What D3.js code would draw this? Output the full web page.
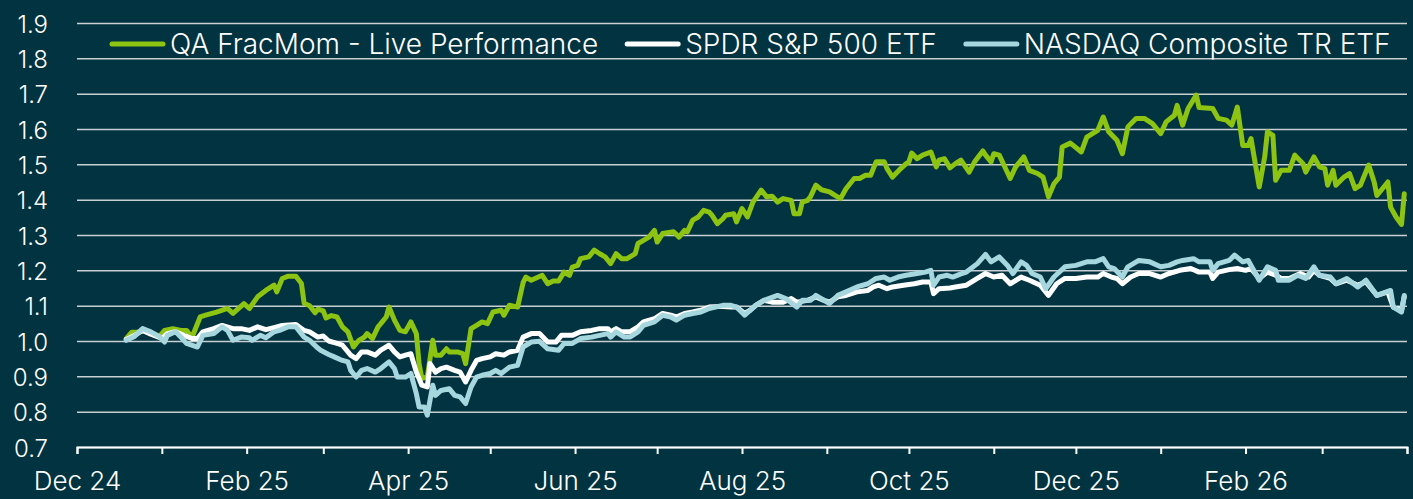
<!DOCTYPE html>
<html>
<head>
<meta charset="utf-8">
<script src="https://cdn.jsdelivr.net/npm/d3@7"></script>
<style>
  html, body { margin: 0; padding: 0; background: #023340; }
  svg text { font-family: Inter, "Noto Sans", sans-serif; font-weight: 300; fill: #ffffff; }
</style>
</head>
<body>
<div id="chart"></div>
<script>
// Series names (legend order)
var seriesNames = ['QA FracMom - Live Performance', 'SPDR S&P 500 ETF', 'NASDAQ Composite TR ETF'];

// y-axis tick labels
var yTicks = [0.7, 0.8, 0.9, 1.0, 1.1, 1.2, 1.3, 1.4, 1.5, 1.6, 1.7, 1.8, 1.9];

// x-axis range
var xStart = '2024-12-01',
    xEnd = '2026-04-01';

// QA FracMom - Live Performance
var fracMom = [
  ["2024-12-19",1.007],["2024-12-21",1.025],["2024-12-23",1.025],["2024-12-26",1.03],["2024-12-28",1.02],["2024-12-31",1.012],
  ["2025-01-02",1.03],["2025-01-05",1.035],["2025-01-08",1.03],["2025-01-10",1.03],["2025-01-12",1.01],["2025-01-15",1.068],
  ["2025-01-17",1.073],["2025-01-21",1.082],["2025-01-25",1.092],["2025-01-27",1.078],["2025-01-31",1.106],["2025-02-02",1.092],
  ["2025-02-05",1.125],["2025-02-08",1.143],["2025-02-11",1.158],["2025-02-12",1.139],["2025-02-14",1.177],["2025-02-16",1.183],
  ["2025-02-19",1.183],["2025-02-21",1.163],["2025-02-22",1.107],["2025-02-24",1.100],["2025-02-26",1.080],["2025-02-27",1.090],
  ["2025-03-01",1.085],["2025-03-02",1.065],["2025-03-04",1.072],["2025-03-06",1.068],["2025-03-08",1.040],["2025-03-10",1.026],
  ["2025-03-12",0.983],["2025-03-14",1.002],["2025-03-16",1.011],["2025-03-17",1.021],["2025-03-19",1.007],["2025-03-21",1.040],
  ["2025-03-22",1.049],["2025-03-24",1.068],["2025-03-25",1.096],["2025-03-27",1.059],["2025-03-29",1.030],["2025-03-31",1.026],
  ["2025-04-02",1.054],["2025-04-04",1.021],["2025-04-05",0.936],["2025-04-06",0.894],["2025-04-08",0.898],["2025-04-10",1.002],
  ["2025-04-11",0.960],["2025-04-13",0.960],["2025-04-15",0.978],["2025-04-16",0.969],["2025-04-19",0.969],["2025-04-21",0.964],
  ["2025-04-22",0.936],["2025-04-24",1.035],["2025-04-26",1.044],["2025-04-28",1.054],["2025-04-30",1.049],["2025-05-02",1.082],
  ["2025-05-05",1.087],["2025-05-06",1.073],["2025-05-08",1.101],["2025-05-11",1.096],["2025-05-13",1.165],["2025-05-14",1.181],
  ["2025-05-16",1.172],["2025-05-20",1.186],["2025-05-22",1.162],["2025-05-24",1.170],["2025-05-26",1.170],["2025-05-28",1.195],
  ["2025-05-30",1.186],["2025-05-31",1.209],["2025-06-02",1.214],["2025-06-03",1.233],["2025-06-06",1.238],["2025-06-08",1.257],
  ["2025-06-10",1.247],["2025-06-12",1.238],["2025-06-14",1.219],["2025-06-16",1.247],["2025-06-18",1.233],["2025-06-20",1.233],
  ["2025-06-23",1.247],["2025-06-24",1.276],["2025-06-26",1.285],["2025-06-28",1.294],["2025-06-30",1.313],["2025-07-01",1.280],
  ["2025-07-03",1.304],["2025-07-07",1.309],["2025-07-09",1.294],["2025-07-11",1.313],["2025-07-12",1.309],["2025-07-14",1.342],
  ["2025-07-16",1.351],["2025-07-18",1.370],["2025-07-20",1.365],["2025-07-21",1.356],["2025-07-23",1.332],["2025-07-25",1.346],
  ["2025-07-26",1.356],["2025-07-29",1.360],["2025-07-30",1.337],["2025-08-01",1.375],["2025-08-03",1.351],["2025-08-05",1.393],
  ["2025-08-08",1.427],["2025-08-10",1.408],["2025-08-12",1.410],["2025-08-14",1.393],["2025-08-16",1.403],["2025-08-19",1.398],
  ["2025-08-20",1.360],["2025-08-22",1.360],["2025-08-23",1.393],["2025-08-25",1.398],["2025-08-26",1.408],["2025-08-28",1.441],
  ["2025-08-30",1.428],["2025-09-02",1.422],["2025-09-04",1.412],["2025-09-06",1.403],["2025-09-08",1.431],["2025-09-11",1.460],
  ["2025-09-13",1.460],["2025-09-15",1.469],["2025-09-17",1.469],["2025-09-19",1.507],["2025-09-22",1.507],["2025-09-23",1.488],
  ["2025-09-25",1.464],["2025-09-28",1.488],["2025-09-30",1.502],["2025-10-01",1.507],["2025-10-02",1.532],["2025-10-04",1.516],
  ["2025-10-06",1.526],["2025-10-09",1.535],["2025-10-11",1.493],["2025-10-12",1.512],["2025-10-14",1.516],["2025-10-16",1.490],
  ["2025-10-18",1.502],["2025-10-20",1.512],["2025-10-23",1.478],["2025-10-25",1.507],["2025-10-28",1.538],["2025-10-29",1.526],
  ["2025-10-31",1.507],["2025-11-01",1.530],["2025-11-03",1.526],["2025-11-05",1.493],["2025-11-07",1.460],["2025-11-09",1.493],
  ["2025-11-12",1.521],["2025-11-14",1.483],["2025-11-17",1.474],["2025-11-19",1.464],["2025-11-21",1.408],["2025-11-23",1.445],
  ["2025-11-25",1.464],["2025-11-26",1.549],["2025-11-29",1.560],["2025-12-03",1.535],["2025-12-05",1.577],["2025-12-09",1.596],
  ["2025-12-11",1.634],["2025-12-13",1.592],["2025-12-16",1.568],["2025-12-18",1.530],["2025-12-20",1.606],["2025-12-23",1.630],
  ["2025-12-26",1.630],["2025-12-29",1.615],["2026-01-01",1.587],["2026-01-03",1.620],["2026-01-06",1.639],["2026-01-07",1.667],
  ["2026-01-09",1.611],["2026-01-11",1.658],["2026-01-14",1.696],["2026-01-15",1.661],["2026-01-20",1.658],["2026-01-22",1.630],
  ["2026-01-25",1.625],["2026-01-27",1.611],["2026-01-29",1.662],["2026-01-31",1.553],["2026-02-02",1.553],["2026-02-03",1.573],
  ["2026-02-06",1.436],["2026-02-08",1.521],["2026-02-09",1.592],["2026-02-11",1.582],["2026-02-12",1.455],["2026-02-14",1.483],
  ["2026-02-17",1.483],["2026-02-19",1.526],["2026-02-22",1.502],["2026-02-23",1.478],["2026-02-26",1.521],["2026-02-28",1.493],
  ["2026-03-02",1.488],["2026-03-03",1.441],["2026-03-05",1.483],["2026-03-06",1.441],["2026-03-09",1.464],["2026-03-11",1.474],
  ["2026-03-13",1.431],["2026-03-15",1.441],["2026-03-18",1.498],["2026-03-20",1.450],["2026-03-21",1.412],["2026-03-23",1.431],
  ["2026-03-25",1.450],["2026-03-26",1.379],["2026-03-28",1.351],["2026-03-30",1.330],["2026-03-31",1.417]
];

// SPDR S&P 500 ETF
var spy = [
  ["2024-12-19",1.004],["2024-12-22",1.016],["2024-12-25",1.030],["2024-12-28",1.019],["2025-01-01",1.007],["2025-01-03",1.021],
  ["2025-01-06",1.026],["2025-01-09",1.016],["2025-01-12",1.007],["2025-01-14",1.007],["2025-01-16",1.026],["2025-01-20",1.035],
  ["2025-01-23",1.044],["2025-01-27",1.035],["2025-01-30",1.035],["2025-02-02",1.030],["2025-02-05",1.040],["2025-02-08",1.032],
  ["2025-02-11",1.038],["2025-02-14",1.044],["2025-02-19",1.047],["2025-02-22",1.030],["2025-02-24",1.026],["2025-02-27",1.011],
  ["2025-03-01",1.014],["2025-03-03",1.000],["2025-03-06",0.993],["2025-03-08",0.988],["2025-03-11",0.960],["2025-03-13",0.950],
  ["2025-03-15",0.969],["2025-03-17",0.969],["2025-03-20",0.960],["2025-03-22",0.974],["2025-03-25",0.988],["2025-03-27",0.969],
  ["2025-03-29",0.955],["2025-03-31",0.960],["2025-04-02",0.964],["2025-04-04",0.912],["2025-04-06",0.875],["2025-04-08",0.870],
  ["2025-04-09",0.936],["2025-04-11",0.912],["2025-04-13",0.922],["2025-04-15",0.926],["2025-04-18",0.917],["2025-04-20",0.912],
  ["2025-04-22",0.884],["2025-04-24",0.917],["2025-04-26",0.945],["2025-04-28",0.950],["2025-05-01",0.955],["2025-05-03",0.964],
  ["2025-05-06",0.960],["2025-05-08",0.969],["2025-05-11",0.974],["2025-05-13",1.011],["2025-05-16",1.021],["2025-05-19",1.021],
  ["2025-05-22",0.997],["2025-05-25",0.997],["2025-05-27",1.016],["2025-05-31",1.016],["2025-06-03",1.026],["2025-06-07",1.030],
  ["2025-06-10",1.035],["2025-06-13",1.035],["2025-06-14",1.026],["2025-06-16",1.035],["2025-06-18",1.026],["2025-06-21",1.026],
  ["2025-06-24",1.040],["2025-06-26",1.054],["2025-06-30",1.063],["2025-07-03",1.078],["2025-07-06",1.073],["2025-07-08",1.068],
  ["2025-07-11",1.078],["2025-07-14",1.082],["2025-07-17",1.087],["2025-07-20",1.096],["2025-07-24",1.098],["2025-07-28",1.096],
  ["2025-07-30",1.096],["2025-08-02",1.078],["2025-08-04",1.087],["2025-08-06",1.101],["2025-08-09",1.115],["2025-08-12",1.110],
  ["2025-08-16",1.110],["2025-08-19",1.120],["2025-08-21",1.110],["2025-08-25",1.115],["2025-08-28",1.125],["2025-08-31",1.115],
  ["2025-09-02",1.110],["2025-09-05",1.125],["2025-09-08",1.129],["2025-09-12",1.139],["2025-09-16",1.143],["2025-09-18",1.153],
  ["2025-09-20",1.158],["2025-09-23",1.148],["2025-09-25",1.153],["2025-09-29",1.158],["2025-10-03",1.162],["2025-10-06",1.167],
  ["2025-10-09",1.167],["2025-10-10",1.134],["2025-10-12",1.148],["2025-10-16",1.150],["2025-10-18",1.153],["2025-10-22",1.158],
  ["2025-10-26",1.177],["2025-10-29",1.191],["2025-11-01",1.181],["2025-11-04",1.186],["2025-11-07",1.162],["2025-11-11",1.181],
  ["2025-11-14",1.172],["2025-11-18",1.158],["2025-11-21",1.129],["2025-11-24",1.162],["2025-11-27",1.177],["2025-12-01",1.177],
  ["2025-12-05",1.181],["2025-12-09",1.181],["2025-12-11",1.191],["2025-12-14",1.181],["2025-12-16",1.177],["2025-12-18",1.162],
  ["2025-12-21",1.181],["2025-12-24",1.191],["2025-12-28",1.191],["2026-01-01",1.181],["2026-01-04",1.191],["2026-01-08",1.200],
  ["2026-01-12",1.205],["2026-01-15",1.195],["2026-01-19",1.195],["2026-01-20",1.177],["2026-01-22",1.195],["2026-01-26",1.202],
  ["2026-01-29",1.205],["2026-02-01",1.200],["2026-02-03",1.205],["2026-02-06",1.177],["2026-02-09",1.195],["2026-02-12",1.186],
  ["2026-02-14",1.177],["2026-02-17",1.177],["2026-02-21",1.191],["2026-02-24",1.181],["2026-02-26",1.200],["2026-02-28",1.186],
  ["2026-03-04",1.177],["2026-03-06",1.162],["2026-03-10",1.172],["2026-03-14",1.158],["2026-03-17",1.167],["2026-03-21",1.129],
  ["2026-03-25",1.139],["2026-03-27",1.096],["2026-03-30",1.087],["2026-03-31",1.125]
];

// NASDAQ Composite TR ETF
var nasdaq = [
  ["2024-12-19",1.002],["2024-12-22",1.013],["2024-12-25",1.035],["2024-12-28",1.026],["2024-12-31",1.013],["2025-01-02",0.997],
  ["2025-01-03",1.016],["2025-01-06",1.026],["2025-01-08",1.011],["2025-01-10",0.993],["2025-01-14",0.983],["2025-01-16",1.016],
  ["2025-01-20",1.021],["2025-01-23",1.040],["2025-01-25",1.030],["2025-01-27",1.002],["2025-01-30",1.011],["2025-02-02",1.009],
  ["2025-02-03",1.002],["2025-02-06",1.016],["2025-02-08",1.009],["2025-02-11",1.026],["2025-02-13",1.030],["2025-02-16",1.040],
  ["2025-02-19",1.040],["2025-02-22",1.011],["2025-02-24",1.002],["2025-02-27",0.980],["2025-02-28",0.974],["2025-03-03",0.962],
  ["2025-03-05",0.955],["2025-03-08",0.945],["2025-03-10",0.941],["2025-03-11",0.917],["2025-03-13",0.898],["2025-03-15",0.917],
  ["2025-03-17",0.922],["2025-03-20",0.912],["2025-03-22",0.922],["2025-03-25",0.941],["2025-03-27",0.922],["2025-03-28",0.898],
  ["2025-03-31",0.898],["2025-04-02",0.908],["2025-04-04",0.851],["2025-04-05",0.813],["2025-04-07",0.813],["2025-04-08",0.790],
  ["2025-04-10",0.875],["2025-04-11",0.846],["2025-04-13",0.860],["2025-04-16",0.865],["2025-04-18",0.846],["2025-04-20",0.842],
  ["2025-04-22",0.823],["2025-04-24",0.870],["2025-04-26",0.898],["2025-04-28",0.903],["2025-05-01",0.908],["2025-05-03",0.917],
  ["2025-05-05",0.908],["2025-05-08",0.926],["2025-05-11",0.931],["2025-05-13",0.983],["2025-05-16",0.997],["2025-05-19",0.999],
  ["2025-05-22",0.978],["2025-05-26",0.974],["2025-05-28",0.993],["2025-05-31",0.993],["2025-06-03",1.007],["2025-06-07",1.011],
  ["2025-06-10",1.016],["2025-06-13",1.021],["2025-06-14",1.011],["2025-06-16",1.026],["2025-06-19",1.011],["2025-06-21",1.011],
  ["2025-06-24",1.026],["2025-06-26",1.044],["2025-06-30",1.054],["2025-07-03",1.073],["2025-07-06",1.068],["2025-07-08",1.059],
  ["2025-07-11",1.073],["2025-07-14",1.078],["2025-07-17",1.082],["2025-07-20",1.092],["2025-07-25",1.101],["2025-07-28",1.101],
  ["2025-07-30",1.096],["2025-08-02",1.073],["2025-08-04",1.087],["2025-08-06",1.101],["2025-08-09",1.115],["2025-08-14",1.129],
  ["2025-08-17",1.120],["2025-08-21",1.096],["2025-08-23",1.115],["2025-08-26",1.115],["2025-08-28",1.129],["2025-08-31",1.115],
  ["2025-09-02",1.106],["2025-09-05",1.129],["2025-09-08",1.139],["2025-09-12",1.153],["2025-09-16",1.162],["2025-09-19",1.177],
  ["2025-09-22",1.181],["2025-09-24",1.172],["2025-09-27",1.181],["2025-09-30",1.186],["2025-10-04",1.191],["2025-10-07",1.195],
  ["2025-10-09",1.200],["2025-10-10",1.158],["2025-10-12",1.181],["2025-10-15",1.186],["2025-10-17",1.181],["2025-10-20",1.190],
  ["2025-10-22",1.195],["2025-10-26",1.219],["2025-10-29",1.245],["2025-10-31",1.224],["2025-11-03",1.238],["2025-11-06",1.214],
  ["2025-11-08",1.191],["2025-11-11",1.224],["2025-11-13",1.214],["2025-11-15",1.191],["2025-11-18",1.181],["2025-11-20",1.148],
  ["2025-11-23",1.181],["2025-11-27",1.210],["2025-12-01",1.214],["2025-12-05",1.224],["2025-12-08",1.224],["2025-12-11",1.233],
  ["2025-12-13",1.210],["2025-12-15",1.205],["2025-12-18",1.181],["2025-12-20",1.210],["2025-12-24",1.228],["2025-12-28",1.224],
  ["2026-01-01",1.210],["2026-01-04",1.214],["2026-01-07",1.224],["2026-01-09",1.228],["2026-01-13",1.233],["2026-01-15",1.224],
  ["2026-01-19",1.224],["2026-01-20",1.200],["2026-01-22",1.219],["2026-01-26",1.228],["2026-01-28",1.243],["2026-01-31",1.224],
  ["2026-02-02",1.228],["2026-02-06",1.172],["2026-02-09",1.210],["2026-02-12",1.200],["2026-02-13",1.172],["2026-02-17",1.172],
  ["2026-02-20",1.186],["2026-02-23",1.177],["2026-02-26",1.210],["2026-02-28",1.186],["2026-03-04",1.181],["2026-03-06",1.162],
  ["2026-03-10",1.177],["2026-03-14",1.153],["2026-03-17",1.172],["2026-03-21",1.129],["2026-03-26",1.143],["2026-03-27",1.096],
  ["2026-03-30",1.082],["2026-03-31",1.129]
];

var colors = ['#8cc411', '#ffffff', '#a6d6de'];

// Setting margins, width, height of plot
var margin = {top: 23, right: 6, bottom: 52, left: 77},
    width = 1413 - margin.left - margin.right,
    height = 499 - margin.top - margin.bottom;

var parse = d3.timeParse('%Y-%m-%d');
var endDate = parse(xEnd);

var series = [fracMom, spy, nasdaq].map(function(s, i) {
  return {
    name: seriesNames[i],
    color: colors[i],
    values: s.map(function(d) { return {date: parse(d[0]), value: d[1]}; })
  };
});

var svg = d3.select('#chart')
  .append('svg')
  .attr('width', 1413)
  .attr('height', 499)
  .style('display', 'block')
  .style('background', '#023340');

var g = svg.append('g')
  .attr('transform', 'translate(' + margin.left + ',' + margin.top + ')');

// Scales
var x = d3.scaleTime()
  .domain([parse(xStart), endDate])
  .range([0, width]);

var y = d3.scaleLinear()
  .domain([d3.min(yTicks), d3.max(yTicks)])
  .range([height, 0]);

// y-axis with gridlines
var y_axis = d3.axisLeft(y)
  .tickValues(yTicks)
  .tickSizeInner(-width)
  .tickSizeOuter(0)
  .tickPadding(29)
  .tickFormat(d3.format('.1f'));

var yg = g.append('g').call(y_axis);
yg.select('.domain').remove();
yg.selectAll('.tick line')
  .attr('stroke', '#c9d0d2')
  .attr('stroke-width', 1.5);
yg.selectAll('.tick text')
  .style('font-size', '24px')
  .attr('dy', '0.38em');

// x-axis: monthly ticks, label every other month (not the closing tick)
var x_axis = d3.axisBottom(x)
  .ticks(d3.timeMonth.every(1))
  .tickSizeInner(7)
  .tickSizeOuter(7)
  .tickPadding(18)
  .tickFormat(function(d) {
    if (+d >= +endDate) return '';
    return d.getMonth() % 2 === 1 ? d3.timeFormat('%b %y')(d) : '';
  });

var xg = g.append('g')
  .attr('transform', 'translate(0,' + height + ')')
  .call(x_axis);
xg.select('.domain')
  .attr('stroke', '#ffffff')
  .attr('stroke-width', 2);
xg.selectAll('.tick line')
  .attr('stroke', '#ffffff')
  .attr('stroke-width', 2);
xg.selectAll('.tick text')
  .style('font-size', '26px');

// Lines
var line = d3.line()
  .x(function(d) { return x(d.date); })
  .y(function(d) { return y(d.value); });

g.selectAll('.series')
  .data(series)
  .enter()
  .append('path')
    .attr('class', 'series')
    .attr('d', function(d) { return line(d.values); })
    .attr('fill', 'none')
    .attr('stroke', function(d) { return d.color; })
    .attr('stroke-width', 5)
    .attr('stroke-linejoin', 'round')
    .attr('stroke-linecap', 'round');

// Legend
var legend = svg.append('g')
  .attr('transform', 'translate(110,44)');

var lx = 0;
series.forEach(function(s) {
  var item = legend.append('g').attr('transform', 'translate(' + lx + ',0)');
  item.append('line')
    .attr('x1', 2).attr('x2', 53)
    .attr('stroke', s.color)
    .attr('stroke-width', 5)
    .attr('stroke-linecap', 'round');
  var t = item.append('text')
    .attr('x', 60)
    .attr('dy', '0.36em')
    .style('font-size', '28px')
    .text(s.name);
  lx += 60 + t.node().getComputedTextLength() + 27;
});
</script>
</body>
</html>
